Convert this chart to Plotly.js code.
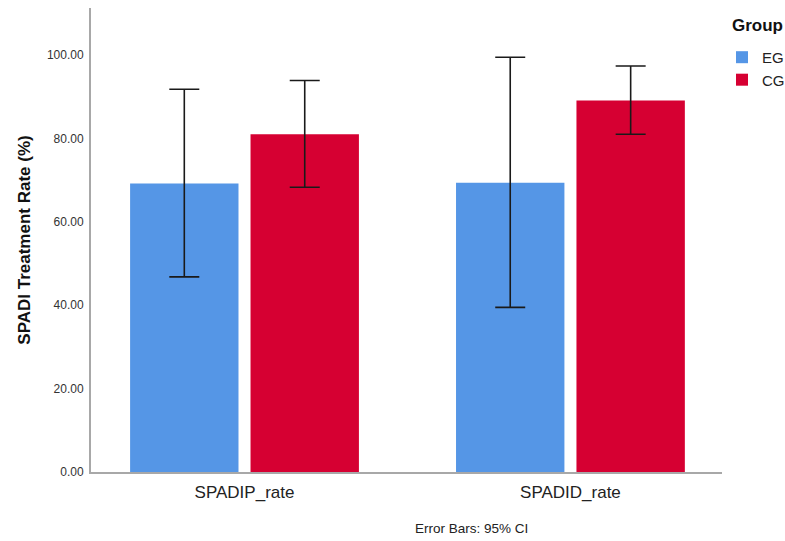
<!DOCTYPE html>
<html>
<head>
<meta charset="utf-8">
<script src="https://cdn.plot.ly/plotly-3.0.1.min.js"></script>
<style>
  html, body { margin: 0; padding: 0; background: #fff; }
  #chart { width: 785px; height: 541px; }
</style>
</head>
<body>
<div id="chart"></div>
<script>
// SPADI treatment rate by group, mean with 95% CI
const categories = ['SPADIP_rate', 'SPADID_rate'];
const groups = ['EG', 'CG'];
const egMean = [69.2, 69.4];
const egLower = [46.8, 39.5];
const egUpper = [91.8, 99.5];
const cgMean = [81.0, 89.1];
const cgLower = [68.3, 81.0];
const cgUpper = [93.9, 97.4];
const tickValues = [0, 20, 40, 60, 80, 100];
const tickLabels = ['0.00', '20.00', '40.00', '60.00', '80.00', '100.00'];

const colors = { EG: '#5596e6', CG: '#d60032' };

function barTrace(name, mean, lower, upper) {
  return {
    type: 'bar',
    name: name,
    x: categories,
    y: mean,
    marker: { color: colors[name], line: { width: 0 } },
    error_y: {
      type: 'data',
      symmetric: false,
      array: upper.map((u, i) => u - mean[i]),
      arrayminus: mean.map((m, i) => m - lower[i]),
      color: '#1a1a1a',
      thickness: 1.6,
      width: 15
    },
    hoverinfo: 'skip'
  };
}

const data = [
  barTrace(groups[0], egMean, egLower, egUpper),
  barTrace(groups[1], cgMean, cgLower, cgUpper)
];

const layout = {
  width: 785,
  height: 541,
  paper_bgcolor: '#ffffff',
  plot_bgcolor: '#ffffff',
  font: { family: 'Liberation Sans, Arial, sans-serif', color: '#222222' },
  margin: { l: 91, r: 63, t: 8, b: 69, autoexpand: false },
  barmode: 'group',
  bargap: 0.261,
  bargroupgap: 0.1,
  showlegend: true,
  legend: {
    x: 1.0, xref: 'paper', xanchor: 'left',
    y: 0.929, yref: 'paper', yanchor: 'top',
    font: { size: 15, color: '#222222' },
    itemwidth: 30,
    tracegroupgap: 0,
    bgcolor: 'rgba(0,0,0,0)'
  },
  xaxis: {
    type: 'category',
    range: [-0.471, 1.465],
    showline: true,
    linecolor: '#a8a8a8',
    linewidth: 2,
    ticks: '',
    ticklabelstandoff: 4,
    showgrid: false,
    zeroline: false,
    tickfont: { size: 17, color: '#222222' },
    fixedrange: true
  },
  yaxis: {
    range: [0, 111.3],
    tickvals: tickValues,
    ticktext: tickLabels,
    showline: true,
    linecolor: '#a8a8a8',
    linewidth: 2,
    ticks: '',
    ticklabelstandoff: 3,
    showgrid: false,
    zeroline: false,
    tickfont: { size: 12, color: '#333333' },
    title: {
      text: '<b>SPADI Treatment Rate (%)</b>',
      font: { size: 17, color: '#111111' },
      standoff: 12
    },
    fixedrange: true
  },
  annotations: [
    {
      text: '<b>Group</b>',
      xref: 'paper', yref: 'paper',
      x: 1.0, y: 1.0,
      xanchor: 'left', yanchor: 'middle',
      xshift: 8, yshift: -17,
      showarrow: false,
      font: { size: 17, color: '#111111' }
    },
    {
      text: 'Error Bars: 95% CI',
      xref: 'paper', yref: 'paper',
      x: 0.603, y: 0,
      xanchor: 'center', yanchor: 'middle',
      yshift: -56,
      showarrow: false,
      font: { size: 13.5, color: '#222222' }
    }
  ]
};

Plotly.newPlot('chart', data, layout, { displayModeBar: false, staticPlot: true });
</script>
</body>
</html>
